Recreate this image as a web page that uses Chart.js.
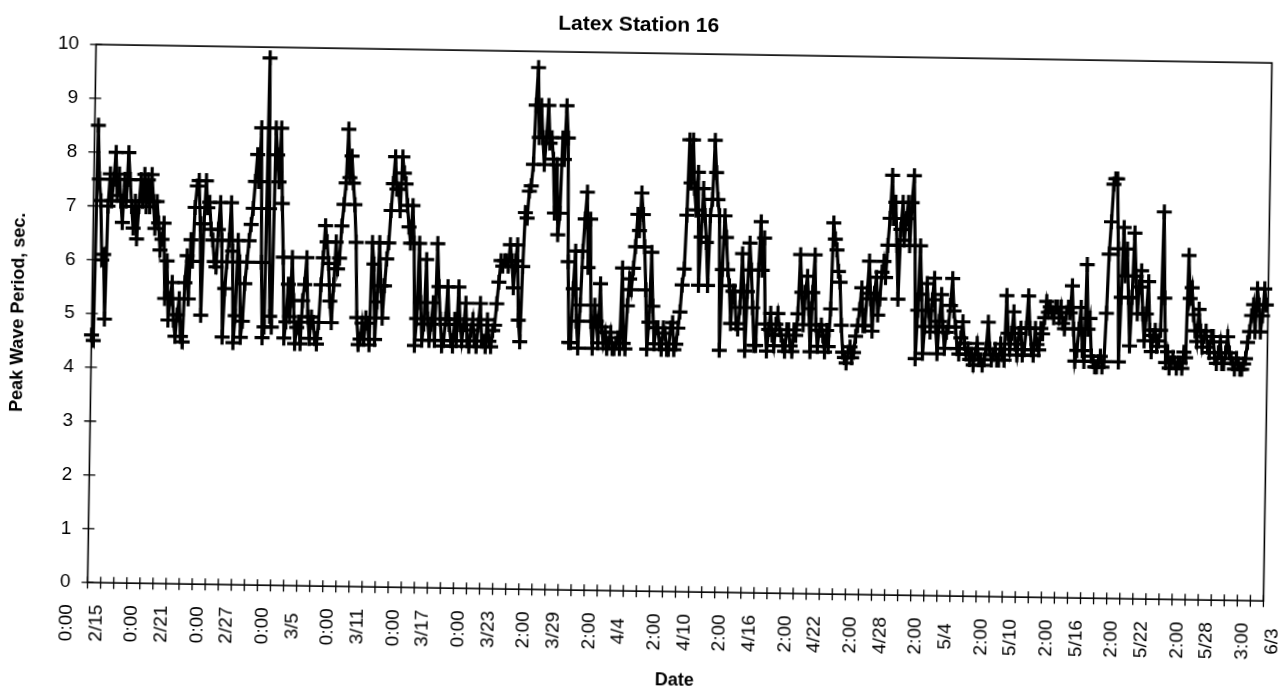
<!DOCTYPE html>
<html>
<head>
<meta charset="utf-8">
<title>Latex Station 16</title>
<script src="https://cdn.jsdelivr.net/npm/chart.js@4.4.1/dist/chart.umd.min.js"></script>
<style>
  html, body { margin: 0; padding: 0; background: #fff; overflow: hidden; }
  #wrap { width: 1283px; height: 693px; }
  #periodChart { display: block; transform: rotate(0.9deg); transform-origin: 50% 50%; }
</style>
</head>
<body>
<div id="wrap"><canvas id="periodChart" width="1283" height="693"></canvas></div>
<script>
// readings every 4 hours starting 2/15 0:00
const PER_DAY = 6;
const peakPeriod = [
  4.6, 4.5, 8.5, 7.5, 7.1, 6.0,   6.1, 4.9, 7.0, 7.6, 7.1, 7.5,   // 2/15 - 2/16
  8.0, 7.2, 7.6, 7.1, 6.7, 7.5,   7.1, 8.0, 7.5, 7.0, 6.6, 7.1,   // 2/17 - 2/18
  6.4, 7.0, 7.5, 7.1, 7.6, 7.0,   7.5, 7.0, 7.6, 7.1, 6.6, 7.1,   // 2/19 - 2/20
  6.7, 6.2, 6.4, 6.7, 5.3, 6.0,   4.9, 5.3, 5.6, 4.9, 4.6, 5.0,   // 2/21 - 2/22
  5.3, 4.6, 4.5, 5.6, 6.1, 5.3,   6.4, 6.0, 7.0, 7.4, 7.5, 6.7,   // 2/23 - 2/24
  5.0, 6.7, 7.5, 7.0, 7.1, 6.6,   6.4, 6.0, 5.9, 6.6, 7.1, 6.4,   // 2/25 - 2/26
  4.6, 5.5, 6.0, 6.4, 7.1, 6.2,   4.5, 5.0, 6.4, 6.0, 4.6, 4.9,   // 2/27 - 2/28
  5.6, 6.0, 6.4, 6.7, 7.0, 7.5,   8.0, 7.5, 8.5, 6.0, 4.6, 4.8,   // 3/1 - 3/2
  9.8, 7.0, 5.0, 4.8, 8.5, 8.0,   7.5, 8.5, 7.1, 6.1, 4.6, 4.9,   // 3/3 - 3/4
  5.6, 5.0, 6.1, 5.3, 4.5, 4.8,   4.9, 4.5, 5.3, 5.6, 6.1, 5.0,   // 3/5 - 3/6
  4.6, 5.0, 4.9, 4.6, 4.5, 4.9,   5.6, 6.1, 6.7, 6.4, 6.0, 5.3,   // 3/7 - 3/8
  4.9, 5.6, 6.4, 5.9, 6.1, 6.7,   7.1, 7.5, 8.5, 7.6, 8.0, 7.5,   // 3/9 - 3/10
  7.1, 6.4, 5.0, 4.5, 4.6, 4.9,   4.6, 5.0, 4.9, 4.5, 6.4, 6.0,   // 3/11 - 3/12
  4.6, 5.3, 6.4, 5.6, 5.0, 5.6,   6.1, 6.4, 7.0, 7.5, 8.0, 7.4,   // 3/13 - 3/14
  7.4, 7.0, 8.0, 7.7, 7.5, 7.1,   6.7, 6.4, 7.1, 6.4, 4.5, 5.0,   // 3/15 - 3/16
  6.4, 5.3, 4.6, 4.9, 6.1, 5.0,   4.6, 4.9, 5.3, 4.6, 6.4, 5.6,   // 3/17 - 3/18
  5.0, 4.5, 4.6, 5.0, 5.6, 4.9,   4.6, 4.5, 5.0, 4.6, 5.6, 4.9,   // 3/19 - 3/20
  4.6, 4.9, 5.3, 4.6, 4.5, 4.8,   5.0, 4.6, 4.5, 4.9, 5.3, 4.6,   // 3/21 - 3/22
  4.6, 4.5, 5.0, 4.6, 4.5, 4.8,   4.9, 5.3, 5.7, 6.1, 6.0, 6.1,   // 3/23 - 3/24
  6.1, 6.0, 6.4, 6.1, 5.6, 6.1,   6.4, 5.0, 4.6, 6.0, 7.0, 6.9,   // 3/25 - 3/26
  7.4, 7.5, 7.9, 9.0, 9.7, 8.4,   9.0, 8.4, 7.9, 8.4, 9.0, 8.3,   // 3/27 - 3/28
  8.4, 8.0, 7.0, 7.9, 6.6, 7.0,   8.4, 8.0, 9.0, 8.4, 6.1, 4.6,   // 3/29 - 3/30
  4.6, 5.6, 6.3, 5.0, 4.5, 5.3,   6.3, 6.9, 7.4, 6.0, 6.9, 5.0,   // 3/31 - 4/1
  4.5, 5.3, 5.0, 4.6, 5.7, 4.9,   4.6, 4.8, 4.5, 4.6, 4.8, 4.5,   // 4/2 - 4/3
  4.5, 4.6, 4.7, 4.5, 6.0, 4.6,   4.5, 5.3, 5.8, 5.6, 6.0, 6.4,   // 4/4 - 4/5
  7.0, 6.7, 7.4, 7.0, 6.4, 5.6,   4.5, 5.0, 6.3, 5.3, 4.6, 4.9,   // 4/6 - 4/7
  4.9, 4.6, 4.5, 4.9, 4.8, 4.5,   4.5, 4.9, 5.0, 4.5, 4.6, 4.9,   // 4/8 - 4/9
  5.2, 5.7, 6.0, 7.0, 8.4, 7.6,   8.4, 7.5, 7.1, 7.8, 5.7, 6.6,   // 4/10 - 4/11
  7.5, 7.0, 6.5, 5.7, 7.0, 7.3,   8.4, 7.8, 7.3, 7.0, 4.5, 6.0,   // 4/12 - 4/13
  7.0, 6.6, 6.0, 5.7, 5.0, 5.6,   5.6, 5.0, 4.9, 5.3, 6.3, 5.6,   // 4/14 - 4/15
  4.5, 5.6, 6.5, 6.0, 5.3, 4.6,   4.6, 6.0, 6.9, 6.0, 6.6, 5.0,   // 4/16 - 4/17
  4.5, 4.9, 5.2, 4.8, 4.6, 5.0,   5.2, 4.9, 4.8, 4.6, 4.5, 4.9,   // 4/18 - 4/19
  4.9, 4.6, 4.5, 4.9, 4.8, 5.2,   6.3, 5.6, 5.0, 5.6, 5.9, 5.3,   // 4/20 - 4/21
  4.5, 5.6, 6.3, 5.0, 4.6, 4.9,   5.0, 4.8, 4.5, 4.9, 4.6, 5.3,   // 4/22 - 4/23
  6.9, 6.6, 6.4, 6.0, 5.8, 5.0,   4.5, 4.4, 4.3, 4.5, 4.6, 4.4,   // 4/24 - 4/25
  4.5, 4.8, 5.0, 5.3, 5.7, 5.0,   5.0, 5.6, 6.2, 5.5, 4.9, 5.6,   // 4/26 - 4/27
  5.9, 5.2, 5.5, 6.0, 6.2, 5.9,   6.5, 7.0, 7.8, 7.0, 7.3, 6.5,   // 4/28 - 4/29
  5.5, 6.8, 7.3, 6.6, 7.0, 7.3,   6.5, 7.3, 7.8, 6.5, 4.4, 5.3,   // 4/30 - 5/1
  6.5, 5.6, 4.5, 5.0, 5.8, 5.3,   4.9, 5.5, 5.9, 5.0, 4.5, 5.1,   // 5/2 - 5/3
  5.6, 5.0, 4.6, 4.9, 5.0, 5.4,   5.9, 5.3, 5.0, 4.6, 4.5, 4.8,   // 5/4 - 5/5
  5.1, 4.7, 4.5, 4.6, 4.4, 4.5,   4.3, 4.5, 4.7, 4.4, 4.4, 4.3,   // 5/6 - 5/7
  4.4, 4.6, 5.1, 4.6, 4.4, 4.5,   4.6, 4.4, 4.4, 4.7, 4.5, 4.4,   // 5/8 - 5/9
  5.6, 4.9, 4.6, 4.9, 5.3, 4.7,   4.5, 4.9, 5.0, 4.5, 4.6, 5.0,   // 5/10 - 5/11
  5.6, 5.0, 4.6, 4.5, 5.0, 4.7,   4.6, 5.0, 4.9, 5.2, 5.5, 5.3,   // 5/12 - 5/13
  5.4, 5.3, 5.2, 5.4, 5.4, 5.2,   5.4, 5.1, 5.0, 5.3, 5.4, 5.3,   // 5/14 - 5/15
  5.8, 5.0, 4.4, 4.6, 5.0, 5.4,   4.6, 4.4, 6.2, 5.0, 5.2, 4.5,   // 5/16 - 5/17
  4.4, 4.3, 4.3, 4.4, 4.5, 4.3,   4.4, 5.3, 6.4, 7.0, 7.7, 7.8,   // 5/18 - 5/19
  7.8, 6.5, 4.4, 5.6, 6.9, 6.0,   6.5, 5.6, 4.7, 5.6, 6.8, 6.0,   // 5/20 - 5/21
  5.3, 5.8, 6.1, 5.3, 4.8, 5.3,   5.9, 5.0, 4.6, 4.9, 5.0, 4.7,   // 5/22 - 5/23
  4.8, 5.0, 7.2, 5.6, 4.4, 4.6,   4.3, 4.4, 4.5, 4.4, 4.3, 4.4,   // 5/24 - 5/25
  4.4, 4.3, 4.6, 4.5, 6.4, 5.6,   5.8, 5.3, 5.0, 4.8, 5.4, 5.0,   // 5/26 - 5/27
  4.7, 4.9, 5.0, 4.7, 4.6, 4.9,   4.9, 4.5, 4.4, 4.6, 4.8, 4.4,   // 5/28 - 5/29
  4.4, 4.6, 4.9, 4.6, 4.5, 4.4,   4.3, 4.5, 4.4, 4.3, 4.3, 4.4,   // 5/30 - 5/31
  4.5, 4.8, 5.0, 5.3, 5.5, 5.0,   5.8, 5.5, 5.0, 5.3, 5.8, 5.5    // 6/1 - 6/2
];

// category labels every 6 days
const tickDates = ['2/15', '2/21', '2/27', '3/5', '3/11', '3/17', '3/23', '3/29', '4/4', '4/10',
                   '4/16', '4/22', '4/28', '5/4', '5/10', '5/16', '5/22', '5/28', '6/3'];
const tickTimes = ['0:00', '0:00', '0:00', '0:00', '0:00', '0:00', '0:00', '2:00', '2:00', '2:00',
                   '2:00', '2:00', '2:00', '2:00', '2:00', '2:00', '2:00', '2:00', '3:00'];

const X_DAYS = 108;
const TICK_STEP = 1.2;   // days between axis tick marks
const LABEL_EVERY = 5;   // one label per 5 tick marks
const FONT = "'Liberation Sans', Arial, Helvetica, sans-serif";

// short strings get a trailing space so the rotated labels sit centred
const padLabel = s => (s.length < 4 ? s + ' ' : s);

// plot frame plus tick marks crossing both axes
const frameTicks = {
    id: 'frameTicks',
    beforeDatasetsDraw(chart) {
        const {ctx, chartArea: {left, top, right, bottom}, scales: {x, y}} = chart;
        ctx.save();
        ctx.strokeStyle = '#000';
        ctx.lineWidth = 1.6;
        ctx.strokeRect(left, top, right - left, bottom - top);
        ctx.lineWidth = 1.3;
        ctx.beginPath();
        x.ticks.forEach(t => {
            const px = x.getPixelForValue(t.value);
            ctx.moveTo(px, bottom - 6);
            ctx.lineTo(px, bottom + 6);
        });
        y.ticks.forEach(t => {
            const py = y.getPixelForValue(t.value);
            ctx.moveTo(left - 6, py);
            ctx.lineTo(left + 6, py);
        });
        ctx.stroke();
        ctx.restore();
    }
};

const ctx = document.getElementById('periodChart');

new Chart(ctx, {
    type: 'line',
    data: {
        datasets: [{
            label: 'Peak Wave Period',
            data: peakPeriod.map((v, i) => ({x: i / PER_DAY, y: v})),
            borderColor: '#000',
            borderWidth: 3.2,
            tension: 0,
            pointStyle: 'cross',
            pointRadius: 7.5,
            pointBorderWidth: 3.2,
            pointBorderColor: '#000',
            clip: false
        }]
    },
    options: {
        responsive: false,
        animation: false,
        layout: {padding: {left: 0, right: 15.6, top: 0, bottom: 0}},
        plugins: {
            legend: {display: false},
            tooltip: {enabled: false},
            title: {
                display: true,
                text: 'Latex Station 16',
                color: '#000',
                font: {family: FONT, size: 21, weight: 'bold'},
                padding: {top: 13, bottom: 14.9}
            }
        },
        scales: {
            x: {
                type: 'linear',
                min: 0,
                max: X_DAYS,
                afterBuildTicks(scale) {
                    const n = Math.round(X_DAYS / TICK_STEP);
                    scale.ticks = Array.from({length: n + 1}, (_, i) => ({value: i * TICK_STEP}));
                },
                afterFit(scale) {
                    scale.height = 101.85;
                    scale.paddingLeft = 0;
                    scale.paddingRight = 0;
                },
                grid: {display: false},
                border: {display: false},
                ticks: {
                    autoSkip: false,
                    minRotation: 90,
                    maxRotation: 90,
                    padding: 14,
                    labelOffset: -20.5,
                    color: '#000',
                    font: {family: FONT, size: 19, lineHeight: 1.55},
                    callback(value, index) {
                        if (index % LABEL_EVERY) return '';
                        const k = index / LABEL_EVERY;
                        return [padLabel(tickTimes[k]), padLabel(tickDates[k])];
                    }
                },
                title: {
                    display: true,
                    text: 'Date',
                    color: '#000',
                    font: {family: FONT, size: 18, weight: 'bold'},
                    padding: {top: 0, bottom: 2}
                }
            },
            y: {
                min: 0,
                max: 10,
                afterFit(scale) {
                    scale.width = 91.4;
                    scale.paddingTop = 0;
                    scale.paddingBottom = 0;
                },
                grid: {display: false},
                border: {display: false},
                ticks: {
                    stepSize: 1,
                    padding: 9,
                    color: '#000',
                    font: {family: FONT, size: 19}
                },
                title: {
                    display: true,
                    text: 'Peak Wave Period, sec.',
                    color: '#000',
                    font: {family: FONT, size: 18, weight: 'bold'},
                    padding: {top: 7, bottom: 0}
                }
            }
        }
    },
    plugins: [frameTicks]
});
</script>
</body>
</html>
